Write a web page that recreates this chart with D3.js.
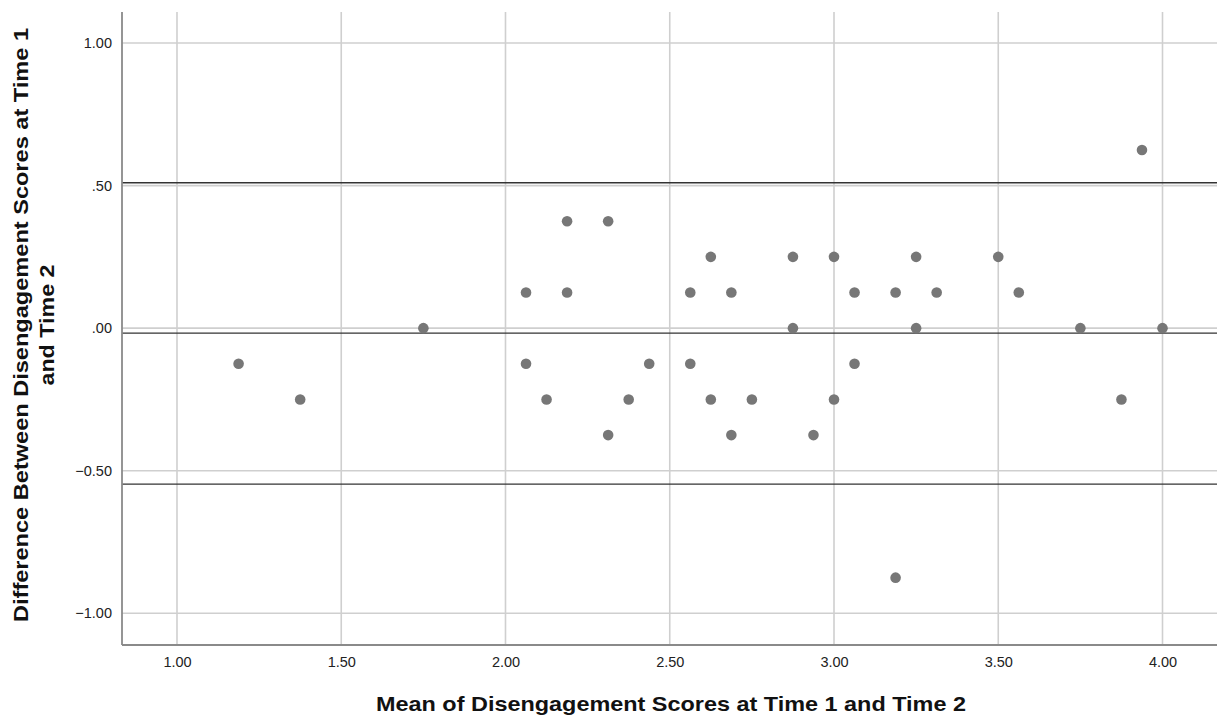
<!DOCTYPE html>
<html>
<head>
<meta charset="utf-8">
<script src="https://cdn.jsdelivr.net/npm/d3@7"></script>
<style>
  html, body { margin: 0; padding: 0; background: #fff; }
  svg { display: block; font-family: "Liberation Sans", Arial, sans-serif; }
</style>
</head>
<body>
<svg id="chart" width="1221" height="719"></svg>
<script>
// Mean of the two time points (x) and difference (y)
const meanScores = [1.1875, 1.375, 1.75, 2.0625, 2.0625, 2.125, 2.1875, 2.1875, 2.3125, 2.3125,
  2.375, 2.4375, 2.5625, 2.5625, 2.625, 2.625, 2.6875, 2.6875, 2.75, 2.875, 2.875, 2.9375,
  3.0, 3.0, 3.0625, 3.0625, 3.1875, 3.1875, 3.25, 3.25, 3.3125, 3.5, 3.5625, 3.75, 3.875, 3.9375, 4.0];
const diffScores = [-0.125, -0.25, 0, 0.125, -0.125, -0.25, 0.375, 0.125, 0.375, -0.375,
  -0.25, -0.125, 0.125, -0.125, 0.25, -0.25, 0.125, -0.375, -0.25, 0.25, 0, -0.375,
  0.25, -0.25, 0.125, -0.125, 0.125, -0.875, 0.25, 0, 0.125, 0.25, 0.125, 0, -0.25, 0.625, 0];
// Reference lines: upper limit of agreement, mean difference, lower limit of agreement
const referenceLines = [0.51, -0.0175, -0.547];
const xTicks = [1.0, 1.5, 2.0, 2.5, 3.0, 3.5, 4.0];
const yTicks = [1.0, 0.5, 0.0, -0.5, -1.0];
const xTitle = "Mean of Disengagement Scores at Time 1 and Time 2";
const yTitleLines = ["Difference Between Disengagement Scores at Time 1", "and Time 2"];

const svg = d3.select("#chart");
const pL = 122, pR = 1217, pT = 12, pB = 645;

const x = d3.scaleLinear().domain([0.8326, 4.1659]).range([pL, pR]);
const y = d3.scaleLinear().domain([-1.1112, 1.1088]).range([pB, pT]);

const fmt = v => {
  let s = d3.format(".2f")(v);
  return s.replace(/^0\./, ".").replace(/^-0\./, "-.");
};

// gridlines
const grid = svg.append("g");
grid.selectAll(".vg").data(xTicks).join("line")
  .attr("x1", d => x(d)).attr("x2", d => x(d))
  .attr("y1", pT).attr("y2", pB)
  .attr("stroke", "#cfcfcf").attr("stroke-width", 1.6);
grid.selectAll(".hg").data(yTicks).join("line")
  .attr("x1", pL).attr("x2", pR)
  .attr("y1", d => y(d)).attr("y2", d => y(d))
  .attr("stroke", "#cfcfcf").attr("stroke-width", 1.6);

// reference lines
svg.append("g").selectAll("line").data(referenceLines).join("line")
  .attr("x1", pL).attr("x2", pR)
  .attr("y1", d => y(d)).attr("y2", d => y(d))
  .attr("stroke", "#333").attr("stroke-width", 1.4);

// axes
const xAxis = d3.axisBottom(x).tickValues(xTicks).tickFormat(fmt).tickSize(0).tickPadding(12);
const yAxis = d3.axisLeft(y).tickValues(yTicks).tickFormat(fmt).tickSize(0).tickPadding(10);

const gx = svg.append("g").attr("transform", `translate(0,${pB})`).call(xAxis);
const gy = svg.append("g").attr("transform", `translate(${pL},0)`).call(yAxis);
[gx, gy].forEach(g => {
  g.select(".domain").attr("stroke", "#8a8a8a").attr("stroke-width", 1.8);
  g.selectAll("text").attr("font-size", 14.5).attr("fill", "#222")
    .attr("font-family", "'Liberation Sans', Arial, sans-serif");
});
gx.select(".domain").attr("d", `M${pL},0H${pR}`);
gy.select(".domain").attr("d", `M0,${pT}V${pB}`);

// points
svg.append("g").selectAll("circle").data(meanScores.map((m, i) => [m, diffScores[i]])).join("circle")
  .attr("cx", d => x(d[0])).attr("cy", d => y(d[1])).attr("r", 5.3)
  .attr("fill", "#777");

// titles
svg.append("text").attr("x", 671).attr("y", 711).attr("text-anchor", "middle")
  .attr("font-size", 20.5).attr("font-weight", "bold").attr("fill", "#111")
  .attr("textLength", 590).attr("lengthAdjust", "spacingAndGlyphs").text(xTitle);

const yt = svg.append("g").attr("transform", "translate(0,325) rotate(-90)");
yt.selectAll("text").data(yTitleLines).join("text")
  .attr("x", 0).attr("y", (d, i) => i === 0 ? 27.5 : 53.5)
  .attr("text-anchor", "middle").attr("font-size", 20.5).attr("font-weight", "bold").attr("fill", "#111")
  .attr("textLength", (d, i) => i === 0 ? 594 : 121).attr("lengthAdjust", "spacingAndGlyphs")
  .text(d => d);
</script>
</body>
</html>
